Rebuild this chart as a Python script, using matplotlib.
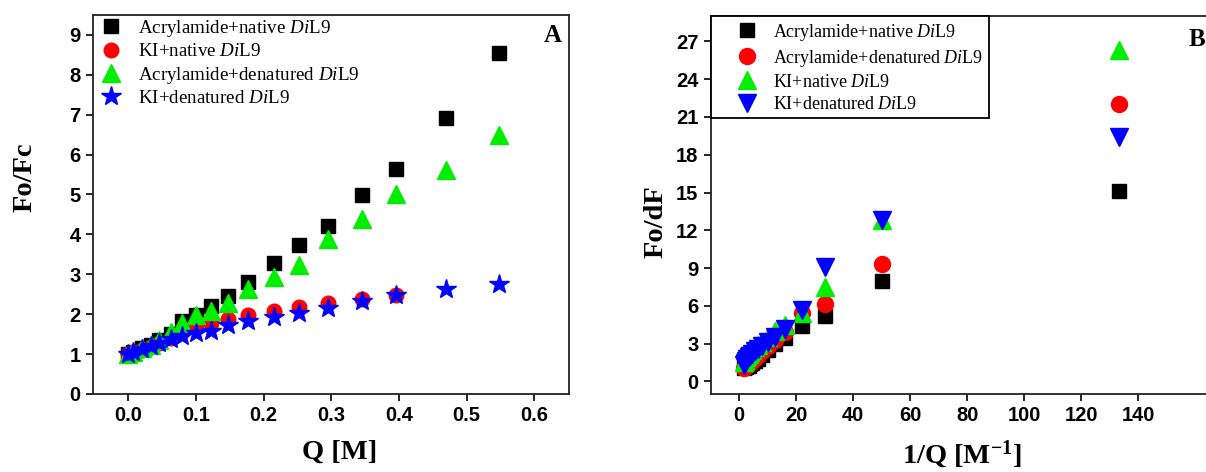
import matplotlib
matplotlib.use("Agg")
import matplotlib.pyplot as plt

plt.rcParams['font.family'] = 'Liberation Sans'
plt.rcParams['font.weight'] = 'bold'
plt.rcParams['mathtext.fontset'] = 'custom'
plt.rcParams['mathtext.rm'] = 'Liberation Serif:weight=normal'
plt.rcParams['mathtext.it'] = 'Liberation Serif:style=italic:weight=normal'
plt.rcParams['mathtext.bf'] = 'Liberation Serif:weight=bold'

# Stern-Volmer data (panel A): quencher concentration and Fo/Fc
q = [0.0, 0.0075, 0.02, 0.033, 0.045, 0.0625, 0.08, 0.1, 0.122, 0.148,
     0.177, 0.215, 0.252, 0.295, 0.345, 0.395, 0.47, 0.547]
acr_native = [1.0, 1.06, 1.14, 1.24, 1.35, 1.5, 1.84, 1.99, 2.2, 2.45,
              2.81, 3.29, 3.73, 4.21, 4.98, 5.65, 6.92, 8.55]
ki_native = [1.0, 1.04, 1.1, 1.18, 1.27, 1.4, 1.55, 1.68, 1.77, 1.88,
             1.99, 2.09, 2.19, 2.27, 2.37, 2.47]
acr_denat = [1.0, 1.06, 1.14, 1.24, 1.35, 1.55, 1.79, 1.97, 2.08, 2.29,
             2.62, 2.93, 3.23, 3.88, 4.38, 5.0, 5.62, 6.5]
ki_denat = [1.0, 1.05, 1.12, 1.2, 1.28, 1.37, 1.45, 1.53, 1.59, 1.72,
            1.82, 1.92, 2.02, 2.16, 2.33, 2.49, 2.62, 2.76]

# Modified Stern-Volmer data (panel B): 1/Q and Fo/dF
inv_q = [1.83, 2.13, 2.53, 2.9, 3.39, 3.97, 4.65, 5.65, 6.76, 8.2,
         10.0, 12.5, 16.0, 22.2, 30.3, 50.0, 133.3]
b_acr_native = [1.1, 1.12, 1.15, 1.2, 1.25, 1.35, 1.45, 1.6, 1.8, 2.1,
                2.5, 3.0, 3.44, 4.36, 5.2, 7.98, 15.13]
b_acr_denat = [1.1, 1.15, 1.2, 1.28, 1.38, 1.5, 1.65, 1.85, 2.1, 2.4,
               2.85, 3.3, 3.9, 5.4, 6.13, 9.3, 22.06]
b_ki_native = [1.5, 1.7, 1.9, 2.05, 2.2, 2.35, 2.5, 2.7, 2.9, 3.1,
               3.5, 4.0, 4.5, 5.4, 7.5, 12.8, 26.3]
b_ki_denat = [1.3, 1.45, 1.6, 1.75, 1.9, 2.05, 2.2, 2.4, 2.6, 2.85,
              3.1, 3.5, 4.2, 5.7, 9.1, 12.8, 19.4]

serif = 'Liberation Serif'

fig = plt.figure(figsize=(12.06, 4.72), dpi=100)
ax1 = fig.add_axes([0.0771, 0.1653, 0.3947, 0.803])
ax2 = fig.add_axes([0.5896, 0.1653, 0.418, 0.8003])

ms = 10.5
ax1.plot(q, acr_native, 's', color='black', ms=ms, label=r'Acrylamide+native $\mathit{Di}$L9')
ax1.plot(q[:len(ki_native)], ki_native, 'o', color='red', ms=ms, label=r'KI+native $\mathit{Di}$L9')
ax1.plot(q, acr_denat, '^', color='#00ee00', ms=ms + 2, label=r'Acrylamide+denatured $\mathit{Di}$L9')
ax1.plot(q, ki_denat, '*', color='blue', ms=ms + 4, label=r'KI+denatured $\mathit{Di}$L9')

ax2.plot(inv_q, b_acr_native, 's', color='black', ms=ms, label=r'Acrylamide+native $\mathit{Di}$L9')
ax2.plot(inv_q, b_acr_denat, 'o', color='red', ms=ms + 1, label=r'Acrylamide+denatured $\mathit{Di}$L9')
ax2.plot(inv_q, b_ki_native, '^', color='#00ee00', ms=ms + 2, label=r'KI+native $\mathit{Di}$L9')
ax2.plot(inv_q, b_ki_denat, 'v', color='blue', ms=ms + 2, label=r'KI+denatured $\mathit{Di}$L9')

ax1.set_xlim(-0.052, 0.651)
ax1.set_ylim(0, 9.5)
ax1.set_xticks([0.0, 0.1, 0.2, 0.3, 0.4, 0.5, 0.6])
ax1.set_xticklabels(['0.0', '0.1', '0.2', '0.3', '0.4', '0.5', '0.6'])
ax1.set_yticks(range(10))
ax2.set_xlim(-9.8, 167)
ax2.set_ylim(-1, 29)
ax2.set_xticks(range(0, 141, 20))
ax2.set_yticks(range(0, 28, 3))

for ax in (ax1, ax2):
    for sp in ax.spines.values():
        sp.set_linewidth(1.3)
        sp.set_color('#222222')
    ax.tick_params(direction='out', length=5, width=1.2, labelsize=14.5, pad=4)

lab_font = dict(family=serif, fontweight='bold', fontsize=20.5)
ax1.set_xlabel('Q [M]', **lab_font)
ax1.set_ylabel('Fo/Fc', **lab_font)
ax2.set_xlabel(r'1/Q [M$^{\mathbf{-1}}$]', **lab_font)
ax2.set_ylabel('Fo/dF', **lab_font)
ax1.xaxis.set_label_coords(0.519, -0.121)
ax1.yaxis.set_label_coords(-0.116, 0.573)
ax2.xaxis.set_label_coords(0.498, -0.118)
ax2.yaxis.set_label_coords(-0.085, 0.455)

ax1.text(0.985, 0.975, 'A', transform=ax1.transAxes, ha='right', va='top',
         family=serif, fontweight='bold', fontsize=18)
ax2.text(0.98, 0.97, 'B', transform=ax2.transAxes, ha='right', va='top',
         family=serif, fontweight='bold', fontsize=18)

leg1 = ax1.legend(loc='upper left', frameon=False,
                  prop={'family': serif, 'size': 13.7, 'weight': 'normal'},
                  handletextpad=0.6, labelspacing=0.22, borderaxespad=0.0,
                  handlelength=1.6, borderpad=0.15)
leg2 = ax2.legend(loc='upper left', frameon=True, fancybox=False,
                  prop={'family': serif, 'size': 13, 'weight': 'normal'},
                  handletextpad=-0.25, labelspacing=0.28, borderaxespad=0.0,
                  handlelength=3.4, borderpad=0.3)
leg2.get_frame().set_edgecolor('black')
leg2.get_frame().set_linewidth(1.3)
leg2.get_frame().set_alpha(1)

fig.savefig('out.png', dpi=100)
